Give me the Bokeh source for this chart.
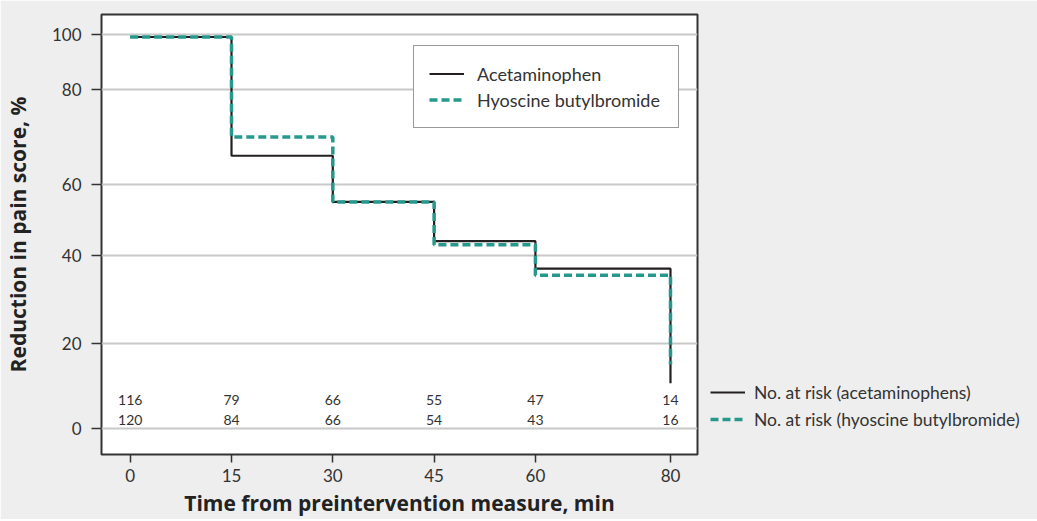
import numpy as np
from bokeh.plotting import figure
from bokeh.models import Range1d, FixedTicker, Legend, LegendItem, ColumnDataSource
from bokeh.core.properties import value
from bokeh.embed import file_html
from bokeh.resources import INLINE

# ---------------- data ----------------
time_points = [0, 15, 30, 45, 60, 80]
# level held from each time point to the next one; the last value is the drop at 80 min
acetaminophen = [99, 66, 55, 44, 37, 10.6]
hyoscine = [99, 70, 55, 43, 35.5, 15]
at_risk_acet = [116, 79, 66, 55, 47, 14]
at_risk_hyos = [120, 84, 66, 54, 43, 16]
x_tick_values = [0, 15, 30, 45, 60, 80]
y_tick_values = [0, 20, 40, 60, 80, 100]
y_tick_labels = ["0", "20", "40", "60", "80", "100"]

# The source chart's y axis is not linear: calibration of each labelled tick
y_tick_display = [0.0, 21.74, 43.92, 62.04, 85.91, 100.0]


def to_display(v):
    return np.interp(v, y_tick_values, y_tick_display)


def step_arrays(levels):
    xs = list(time_points) + [time_points[-1]]
    ys = list(levels[:-1]) + [levels[-2], levels[-1]]
    return xs, list(to_display(ys))


FONT = "Lato"
BOLD_FONT = "Open Sans"
TXT = "#333333"
TEAL = "#26998c"
BLACK = "#231f20"

p = figure(frame_width=596, frame_height=440, output_backend="svg", toolbar_location=None,
           x_range=Range1d(-4.25, 84.0), y_range=Range1d(-6.51, 105.0),
           min_border_left=94, min_border_right=331, min_border_top=14, min_border_bottom=60)

p.border_fill_color = "#eeeeee"
p.background_fill_color = "white"
p.outline_line_color = "#333333"
p.outline_line_width = 2

# grid
p.xgrid.visible = False
p.ygrid.grid_line_color = "#c8c8c8"
p.ygrid.grid_line_width = 2

# axes
p.xaxis.ticker = FixedTicker(ticks=x_tick_values)
p.yaxis.ticker = FixedTicker(ticks=y_tick_display)
p.yaxis.major_label_overrides = {d: l for d, l in zip(y_tick_display, y_tick_labels)}
for ax in (p.xaxis[0], p.yaxis[0]):
    ax.axis_line_color = None
    ax.major_tick_line_color = TXT
    ax.major_tick_line_width = 1.5
    ax.major_tick_in = 0
    ax.minor_tick_line_color = None
    ax.major_label_text_font = FONT
    ax.major_label_text_font_size = "17px"
    ax.major_label_text_color = TXT
    ax.axis_label_text_font = BOLD_FONT
    ax.axis_label_text_font_style = "bold"
    ax.axis_label_text_font_size = "21px"
    ax.axis_label_text_color = "#222222"
p.xaxis.major_tick_out = 8
p.yaxis.major_tick_out = 10
p.xaxis.major_label_standoff = 6
p.yaxis.major_label_standoff = 10
p.xaxis.axis_label = "Time from preintervention measure, min"
p.yaxis.axis_label = "Reduction in pain score, %"
p.xaxis.axis_label_standoff = 4
p.yaxis.axis_label_standoff = 17

# step lines
ax_, ay_ = step_arrays(acetaminophen)
hx_, hy_ = step_arrays(hyoscine)
r_a = p.step(ax_, ay_, mode="after", line_color=BLACK, line_width=2.2)
r_h = p.step(hx_, hy_, mode="after", line_color=TEAL, line_width=3.5, line_dash="8 4")

# numbers at risk
src = ColumnDataSource(dict(
    x=time_points + time_points,
    y=[7.4] * len(time_points) + [2.3] * len(time_points),
    t=[str(v) for v in at_risk_acet] + [str(v) for v in at_risk_hyos],
))
p.text(x="x", y="y", text="t", source=src, text_align="center", text_baseline="middle",
       text_font=value(FONT), text_font_size="14px", text_color=TXT)

# legend inside the plot
leg1 = Legend(items=[LegendItem(label="Acetaminophen", renderers=[r_a]),
                     LegendItem(label="Hyoscine butylbromide", renderers=[r_h])],
              location=(312, 326), margin=0, padding=15, spacing=1,
              label_height=25, glyph_height=25, glyph_width=35, label_standoff=13, label_width=186,
              border_line_color="#333333", border_line_width=1,
              background_fill_color="white", background_fill_alpha=1.0,
              label_text_font=FONT, label_text_font_size="18px", label_text_color=TXT)
p.add_layout(leg1, "center")

# "No. at risk" key outside the plot, in the right panel
leg2 = Legend(items=[LegendItem(label="No. at risk (acetaminophens)", renderers=[r_a]),
                     LegendItem(label="No. at risk (hyoscine butylbromide)", renderers=[r_h])],
              location=(13, 22), margin=0, padding=0, spacing=1,
              label_height=26, glyph_height=26, glyph_width=35, label_standoff=9,
              border_line_color=None, background_fill_alpha=0.0,
              label_text_font=FONT, label_text_font_size="17.5px", label_text_color=TXT)
p.add_layout(leg2, "right")

open("out.html", "w").write(file_html(p, INLINE))
